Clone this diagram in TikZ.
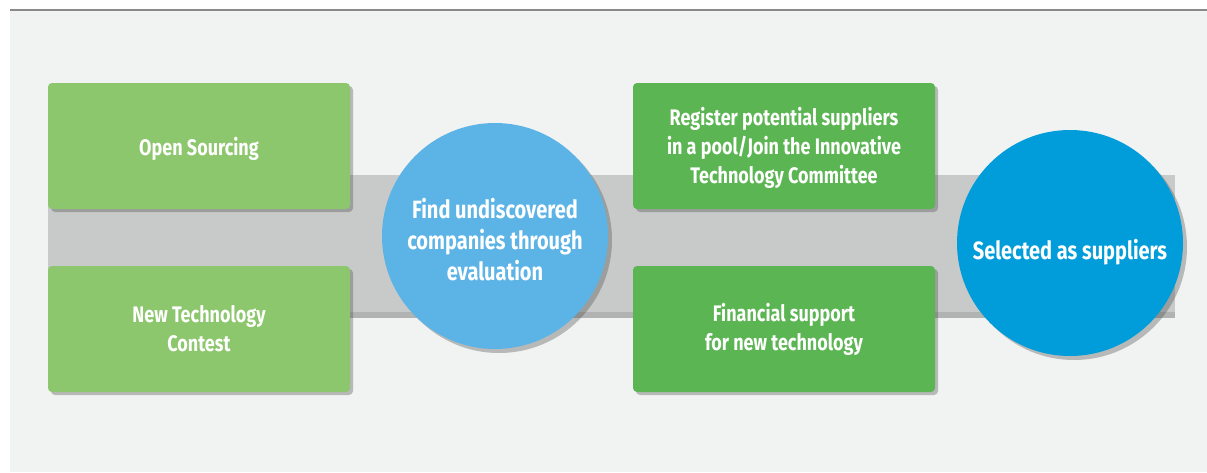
\documentclass[tikz,border=0pt]{standalone}
\usepackage{fontspec}
\setmainfont{Fira Sans}[FakeStretch=0.8]
\usetikzlibrary{shadows}
\definecolor{bgc}{HTML}{F1F2F2}
\definecolor{bandc}{HTML}{C8C9C9}
\definecolor{lgreen}{HTML}{8CC66D}
\definecolor{dgreen}{HTML}{5BB552}
\definecolor{lblue}{HTML}{5CB4E6}
\definecolor{dblue}{HTML}{019DDB}
\definecolor{linec}{HTML}{8A8A8A}
\tikzset{
  box/.style={rounded corners=4pt, minimum width=302pt, minimum height=126pt, inner sep=0pt,
    text=white, font=\fontsize{22.5}{29}\selectfont\bfseries, align=center,
    drop shadow={shadow xshift=3pt, shadow yshift=-3pt, opacity=0.35, fill=black!70}},
  lbox/.style={box, fill=lgreen},
  rbox/.style={box, fill=dgreen},
  disc/.style={circle, minimum size=226pt, inner sep=0pt, text=white,
    font=\fontsize{25}{31}\selectfont\bfseries, align=center,
    drop shadow={shadow xshift=4pt, shadow yshift=-4pt, opacity=0.35, fill=black!70}},
}
\begin{document}
\begin{tikzpicture}[x=1pt,y=-1pt]
\useasboundingbox (0,0) rectangle (1207,472);
\fill[white] (0,0) rectangle (1207,472);
\fill[bgc] (10,10) rectangle (1207,472);
\draw[linec, line width=1.3pt] (10,10) -- (1207,10);
% band
\fill[black!55, opacity=0.5] (48,306) rectangle (1175,318);
\fill[bandc] (48,175) rectangle (1175,312);
% boxes
\node[lbox] (os) at (199,146) {\rule{0pt}{23pt}Open Sourcing};
\node[lbox] (nt) at (199,329) {New Technology\\Contest};
\node[disc, fill=lblue] (fu) at (495,236) {\rule{0pt}{27pt}Find undiscovered\\companies through\\evaluation};
\node[rbox] (rp) at (784,146) {\rule{0pt}{22pt}Register potential suppliers\\in a pool/Join the Innovative\\Technology Committee};
\node[rbox] (fs) at (784,329) {Financial support\\for new technology};
\node[disc, fill=dblue] (sa) at (1070,243) {\rule{0pt}{39pt}Selected as suppliers};
\end{tikzpicture}
\end{document}
